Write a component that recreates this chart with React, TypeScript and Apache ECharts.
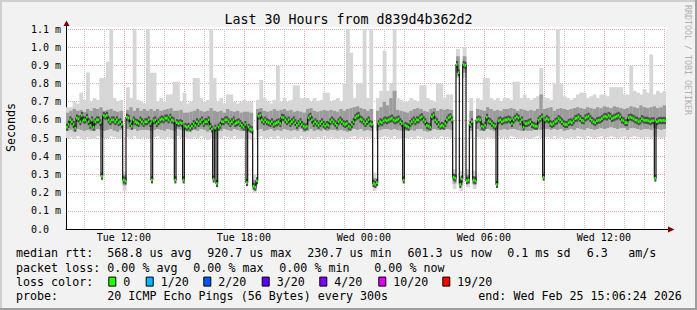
import React, { useEffect, useRef } from "react";
import * as echarts from "echarts";

// ---- time frame (hours since Tue 00:00) ----
const START_HOUR = 9 + 6.4 / 60; // Tue 09:06:24
const SPAN_HOURS = 30;
const END_HOUR = START_HOUR + SPAN_HOURS;
const MEDIAN_STEP_H = 5 / 60;
const SMOKE_STEP_H = 10 / 60;

const Y_MAX_US = 1100;
const Y_STEP_US = 100;

const xLabelHours = [12, 18, 24, 30, 36];
const xLabelTexts = ["Tue 12:00", "Tue 18:00", "Wed 00:00", "Wed 06:00", "Wed 12:00"];
const majorGridHours = [12, 15, 18, 21, 24, 27, 30, 33, 36, 39];
const minorGridHours = [10, 11, 13, 14, 16, 17, 19, 20, 22, 23, 25, 26, 28, 29, 31, 32, 34, 35, 37, 38];

// ---- median rtt, microseconds, one value per 5 minutes (12 per hour row) ----
const medianUs = [
  560, 575, 600, 590, 575, 555, 610, 605, 590, 625, 600, 600,
  615, 590, 570, 600, 560, 590, 600, 600, 585, 290, 625, 620,
  625, 600, 590, 600, 600, 590, 600, 585, 590, 575, 270, 265,
  615, 610, 580, 565, 600, 590, 585, 580, 600, 590, 580, 590,
  590, 600, 580, 270, 595, 600, 580, 590, 600, 605, 600, 610,
  610, 600, 615, 600, 595, 270, 585, 580, 585, 580, 270, 565,
  560, 565, 555, 565, 580, 570, 590, 580, 590, 600, 580, 590,
  590, 600, 565, 550, 275, 555, 250, 560, 570, 590, 590, 600,
  600, 590, 580, 590, 600, 580, 585, 590, 580, 570, 560, 575,
  255, 560, 550, 545, 235, 230, 265, 620, 625, 600, 590, 600,
  590, 585, 580, 590, 575, 580, 585, 590, 580, 615, 612, 600,
  590, 600, 580, 590, 600, 585, 570, 580, 590, 575, 565, 560,
  565, 612, 620, 600, 580, 590, 580, 570, 580, 590, 575, 565,
  575, 570, 590, 600, 590, 580, 570, 590, 600, 590, 580, 575,
  580, 565, 560, 575, 590, 612, 620, 625, 605, 600, 590, 580,
  590, 600, 580, 575, 250, 245, 255, 580, 590, 585, 595, 600,
  595, 600, 605, 610, 600, 595, 600, 605, 590, 580, 270, 570,
  565, 560, 580, 590, 600, 590, 600, 600, 612, 617, 600, 590,
  570, 565, 560, 617, 626, 600, 590, 575, 565, 570, 565, 580,
  600, 612, 617, 600, 285, 280, 905, 860, 245, 275, 905, 900,
  265, 270, 575, 590, 270, 265, 600, 605, 600, 565, 560, 570,
  615, 595, 590, 580, 570, 565, 245, 595, 600, 590, 595, 600,
  600, 605, 600, 580, 600, 610, 617, 610, 590, 600, 560, 580,
  580, 585, 590, 575, 570, 565, 565, 598, 607, 616, 285, 600,
  607, 600, 580, 575, 580, 590, 595, 607, 600, 590, 580, 575,
  575, 585, 590, 585, 595, 607, 610, 616, 607, 598, 595, 610,
  616, 620, 607, 598, 590, 585, 595, 598, 600, 607, 616, 620,
  616, 625, 620, 607, 612, 616, 620, 625, 616, 600, 595, 585,
  585, 612, 616, 612, 607, 600, 598, 590, 595, 607, 600, 598,
  598, 595, 590, 595, 595, 280, 590, 595, 598, 595, 598, 595,
];

// ---- smoke (ping spread), microseconds, one value per 10 minutes (6 per hour row) ----
const smokeLoUs = [
  500, 505, 495, 510, 500, 490,
  505, 495, 500, 510, 505, 500,
  500, 510, 505, 495, 500, 210,
  505, 500, 510, 495, 500, 505,
  500, 495, 505, 510, 500, 495,
  505, 500, 495, 510, 500, 505,
  495, 500, 505, 500, 510, 500,
  490, 500, 495, 505, 500, 510,
  505, 500, 510, 500, 495, 500,
  495, 490, 200, 505, 510, 500,
  500, 505, 495, 510, 500, 505,
  500, 495, 505, 500, 510, 495,
  505, 500, 495, 505, 500, 510,
  500, 505, 500, 495, 505, 500,
  495, 505, 510, 500, 505, 500,
  505, 500, 210, 500, 505, 510,
  505, 500, 510, 500, 495, 500,
  500, 505, 495, 510, 505, 500,
  495, 500, 505, 500, 510, 505,
  505, 500, 220, 830, 210, 830,
  230, 500, 220, 505, 500, 495,
  505, 500, 495, 510, 500, 505,
  500, 510, 505, 500, 495, 505,
  500, 495, 505, 510, 500, 505,
  505, 500, 510, 500, 505, 495,
  500, 505, 500, 510, 505, 500,
  510, 505, 500, 505, 510, 500,
  505, 510, 505, 500, 505, 510,
  500, 505, 510, 505, 500, 505,
  505, 500, 510, 505, 500, 505,
];
const smokeMidLoUs = [
  540, 545, 535, 550, 545, 540,
  545, 540, 540, 550, 545, 540,
  545, 550, 540, 535, 545, 240,
  550, 545, 550, 540, 545, 545,
  545, 540, 545, 550, 545, 540,
  550, 545, 540, 550, 545, 540,
  535, 540, 545, 540, 550, 545,
  535, 545, 540, 545, 540, 550,
  545, 540, 550, 545, 540, 540,
  535, 530, 220, 545, 550, 540,
  545, 550, 540, 545, 540, 550,
  545, 540, 545, 540, 550, 535,
  540, 550, 540, 545, 540, 550,
  540, 545, 545, 540, 545, 540,
  535, 545, 550, 545, 550, 540,
  545, 540, 230, 540, 545, 550,
  550, 545, 550, 545, 540, 540,
  540, 545, 540, 550, 550, 540,
  535, 545, 550, 545, 550, 545,
  550, 545, 250, 860, 240, 860,
  250, 540, 245, 550, 540, 540,
  550, 545, 540, 550, 545, 550,
  545, 550, 550, 545, 540, 545,
  540, 540, 545, 550, 545, 550,
  550, 545, 550, 545, 550, 540,
  545, 550, 545, 555, 550, 545,
  555, 550, 545, 550, 555, 550,
  555, 560, 555, 550, 555, 555,
  545, 555, 555, 550, 545, 550,
  550, 545, 555, 550, 545, 550,
];
const smokeMidHiUs = [
  640, 650, 660, 650, 655, 645,
  660, 650, 665, 660, 670, 650,
  655, 660, 650, 645, 650, 300,
  655, 670, 650, 665, 650, 660,
  650, 660, 650, 660, 650, 655,
  660, 665, 650, 650, 655, 640,
  640, 645, 650, 660, 650, 645,
  650, 665, 650, 645, 650, 640,
  660, 650, 645, 650, 640, 645,
  645, 640, 270, 660, 665, 650,
  645, 650, 660, 650, 655, 660,
  650, 655, 645, 650, 645, 640,
  660, 665, 650, 645, 650, 655,
  650, 655, 650, 645, 660, 650,
  660, 665, 670, 675, 665, 660,
  650, 660, 280, 650, 670, 700,
  680, 720, 760, 655, 650, 645,
  640, 650, 660, 665, 660, 650,
  645, 660, 665, 650, 660, 655,
  660, 655, 300, 950, 290, 950,
  300, 650, 290, 660, 655, 650,
  670, 660, 650, 655, 650, 660,
  660, 665, 660, 650, 660, 655,
  650, 655, 650, 660, 740, 660,
  665, 670, 650, 660, 665, 660,
  655, 660, 665, 670, 665, 660,
  670, 665, 660, 670, 665, 675,
  670, 665, 675, 670, 665, 660,
  665, 675, 670, 665, 680, 670,
  665, 670, 675, 665, 670, 680,
];
const smokeHiUs = [
  670, 670, 700, 690, 750, 710,
  860, 700, 720, 710, 830, 830,
  920, 1100, 720, 700, 710, 320,
  780, 720, 1100, 710, 700, 690,
  1100, 860, 860, 700, 720, 700,
  740, 740, 810, 810, 700, 750,
  690, 700, 830, 830, 720, 700,
  710, 1100, 830, 700, 720, 690,
  740, 740, 700, 690, 700, 710,
  700, 700, 300, 710, 820, 720,
  700, 690, 710, 900, 700, 720,
  700, 710, 790, 790, 720, 720,
  720, 700, 720, 700, 710, 750,
  750, 700, 710, 720, 700, 800,
  1100, 970, 720, 800, 800, 1100,
  720, 1100, 310, 720, 760, 980,
  760, 800, 1100, 720, 710, 700,
  700, 720, 710, 700, 790, 790,
  720, 710, 700, 800, 800, 720,
  740, 740, 330, 990, 320, 1000,
  330, 720, 320, 720, 710, 830,
  830, 720, 710, 720, 700, 720,
  720, 710, 810, 810, 720, 740,
  720, 710, 720, 730, 885, 720,
  720, 710, 800, 1100, 800, 730,
  720, 710, 720, 740, 750, 750,
  720, 730, 740, 720, 740, 740,
  730, 780, 780, 780, 780, 740,
  740, 900, 760, 750, 740, 770,
  750, 960, 740, 760, 750, 760,
];

// ---- legend texts ----
const titleText = "Last 30 Hours from d839d4b362d2";
const yAxisTitle = "Seconds";
const watermark = "RRDTOOL / TOBI OETIKER";
const rttLabel = "median rtt:";
const rttStats = ["568.8 us avg", "920.7 us max", "230.7 us min", "601.3 us now", "0.1 ms sd", "6.3", "am/s"];
const lossLabel = "packet loss:";
const lossStats = ["0.00 % avg", "0.00 % max", "0.00 % min", "0.00 % now"];
const lossColorLabel = "loss color:";
const lossColorNames = ["0", "1/20", "2/20", "3/20", "4/20", "10/20", "19/20"];
const lossColorValues = ["#26ff00", "#00b8ff", "#0059ff", "#5e00ff", "#7e00ff", "#dd00ff", "#ff0000"];
const probeLabel = "probe:";
const probeText = "20 ICMP Echo Pings (56 Bytes) every 300s";
const endText = "end: Wed Feb 25 15:06:24 2026";

// ---- layout (pixels) ----
const W = 697;
const H = 310;
const MONO = "'DejaVu Sans Mono', monospace";
const rttX = [107.3, 207.3, 307.3, 407.5, 507.3, 586.7, 628.3];
const lossX = [107.3, 193.3, 279.3, 374.3];
const boxX = [108.3, 145.7, 203.3, 261.7, 319.3, 378.3, 442.3];
const rowY = [253.3, 267.5, 281.6, 295.8];

const LIGHT_SMOKE = "#d6d6d6";
const MID_SMOKE = "#9c9c9c";
const CORE_SMOKE = "#4c4c4c";
const MAJOR_GRID = "#eaa9a9";
const MINOR_GRID = "#c6c6c6";

function txt(text: string, x: number, y: number, size: number, extra: any = {}) {
  return {
    type: "text",
    x,
    y,
    silent: true,
    ...extra,
    style: {
      text,
      x: 0,
      y: 0,
      fill: extra.fill || "#000",
      font: `${size}px ${MONO}`,
      align: extra.align || "left",
      textAlign: extra.align || "left",
      verticalAlign: "middle",
      textVerticalAlign: "middle",
    },
  };
}

function buildOption() {
  const medianPts: number[][] = medianUs.map((v, i) => [START_HOUR + i * MEDIAN_STEP_H, v]);
  medianPts.push([END_HOUR, medianUs[medianUs.length - 1]]);

  const medianCells = medianUs.map((v, i) => [
    START_HOUR + i * MEDIAN_STEP_H,
    START_HOUR + (i + 1) * MEDIAN_STEP_H,
    v,
  ]);
  const smokeCells = smokeLoUs.map((lo, j) => [
    START_HOUR + j * SMOKE_STEP_H,
    START_HOUR + (j + 1) * SMOKE_STEP_H,
    lo,
    smokeMidLoUs[j],
    smokeMidHiUs[j],
    smokeHiUs[j],
  ]);

  const gridLines = (hours: number[], color: string) => ({
    type: "custom",
    silent: true,
    z: 1,
    data: hours.map((h) => [h, 0]),
    encode: { x: 0, y: 1 },
    renderItem: (_p: any, api: any) => {
      const top = api.coord([api.value(0), Y_MAX_US]);
      const bottom = api.coord([api.value(0), 0]);
      const x = Math.round(top[0]) + 0.5;
      return {
        type: "line",
        shape: { x1: x, y1: top[1], x2: x, y2: bottom[1] },
        style: { stroke: color, lineWidth: 1, lineDash: [1, 1] },
      };
    },
  });

  // horizontal marks drawn once per 5-minute median step
  const medianBar = (color: string, thickness: number, extraW: number, z: number) => ({
    type: "custom",
    silent: true,
    clip: true,
    z,
    data: medianCells,
    encode: { x: [0, 1], y: 2 },
    renderItem: (_p: any, api: any) => {
      const a = api.coord([api.value(0), api.value(2)]);
      const b = api.coord([api.value(1), api.value(2)]);
      return {
        type: "rect",
        shape: { x: a[0], y: a[1] - thickness / 2, width: b[0] - a[0] + extraW, height: thickness },
        style: { fill: color },
      };
    },
  });

  const graphics: any[] = [
    // frame shading
    { type: "rect", silent: true, shape: { x: 0, y: 0, width: W, height: 2 }, style: { fill: "#cfcfcf" } },
    { type: "rect", silent: true, shape: { x: 0, y: 0, width: 2, height: H }, style: { fill: "#cfcfcf" } },
    { type: "rect", silent: true, shape: { x: 0, y: H - 2, width: W, height: 2 }, style: { fill: "#9e9e9e" } },
    { type: "rect", silent: true, shape: { x: W - 2, y: 0, width: 2, height: H }, style: { fill: "#9e9e9e" } },
    // canvas strip above the top grid line
    { type: "rect", silent: true, z: -1, shape: { x: 66, y: 27, width: 601, height: 3 }, style: { fill: "#ffffff" } },
    // axis arrows
    { type: "line", silent: true, shape: { x1: 66.5, y1: 29, x2: 66.5, y2: 25 }, style: { stroke: "#000", lineWidth: 1 } },
    { type: "polygon", silent: true, shape: { points: [[63.5, 26], [66.5, 20.5], [69.5, 26]] }, style: { fill: "#7f0000" } },
    { type: "line", silent: true, shape: { x1: 666, y1: 229.5, x2: 669, y2: 229.5 }, style: { stroke: "#000", lineWidth: 1 } },
    { type: "polygon", silent: true, shape: { points: [[668, 226.5], [674.5, 229.5], [668, 232.5]] }, style: { fill: "#7f0000" } },
    // titles
    txt(titleText, 348.5, 19.5, 13.3, { align: "center" }),
    txt(yAxisTitle, 10.5, 127.5, 11.66, { align: "center", rotation: Math.PI / 2 }),
    txt(watermark, 687.5, 60, 8.3, { align: "center", rotation: -Math.PI / 2, fill: "#b0b0b0" }),
    // legend
    txt(rttLabel, 16, rowY[0], 11.66),
    ...rttStats.map((s, i) => txt(s, rttX[i], rowY[0], 11.66)),
    txt(lossLabel, 16, rowY[1], 11.66),
    ...lossStats.map((s, i) => txt(s, lossX[i], rowY[1], 11.66)),
    txt(lossColorLabel, 16, rowY[2], 11.66),
    ...lossColorNames.map((s, i) => txt(s, boxX[i] + 15, rowY[2], 11.66)),
    ...lossColorValues.map((c, i) => ({
      type: "rect",
      silent: true,
      shape: { x: boxX[i] + 0.5, y: rowY[2] - 4.5, width: 7, height: 9 },
      style: { fill: c, stroke: "#000", lineWidth: 1 },
    })),
    txt(probeLabel, 16, rowY[3], 11.66),
    txt(probeText, 107.3, rowY[3], 11.66),
    txt(endText, 478.3, rowY[3], 11.66),
  ];

  return {
    animation: false,
    backgroundColor: "#f2f2f2",
    grid: { left: 66, right: 31, top: 29, bottom: 81, show: true, backgroundColor: "#ffffff", borderWidth: 0 },
    xAxis: {
      type: "value",
      min: START_HOUR,
      max: END_HOUR,
      axisLine: { show: true, onZero: false, lineStyle: { color: "#000", width: 1 } },
      axisTick: { show: false },
      splitLine: { show: false },
      axisLabel: {
        customValues: xLabelHours,
        formatter: (v: number) => {
          const k = xLabelHours.findIndex((h) => Math.abs(h - v) < 1e-6);
          return k >= 0 ? xLabelTexts[k] : "";
        },
        color: "#000",
        fontFamily: MONO,
        fontSize: 10,
        margin: 3,
      },
    },
    yAxis: {
      type: "value",
      min: 0,
      max: Y_MAX_US,
      interval: Y_STEP_US,
      axisLine: { show: true, lineStyle: { color: "#000", width: 1 } },
      axisTick: { show: false },
      splitLine: { show: true, lineStyle: { color: MAJOR_GRID, width: 1, type: [1, 1] } },
      axisLabel: {
        formatter: (v: number) => (v === 0 ? "0.0" : (v / 1000).toFixed(1) + " m"),
        align: "left",
        margin: 35,
        color: "#000",
        fontFamily: MONO,
        fontSize: 10,
      },
    },
    series: [
      gridLines(minorGridHours, MINOR_GRID),
      gridLines(majorGridHours, MAJOR_GRID),
      {
        type: "custom",
        silent: true,
        clip: true,
        z: 2,
        data: smokeCells,
        encode: { x: [0, 1], y: [2, 5] },
        renderItem: (_p: any, api: any) => {
          const a = api.coord([api.value(0), api.value(5)]);
          const b = api.coord([api.value(1), api.value(2)]);
          const c = api.coord([api.value(0), api.value(4)]);
          const d = api.coord([api.value(1), api.value(3)]);
          const w = b[0] - a[0] + 0.5;
          return {
            type: "group",
            children: [
              { type: "rect", shape: { x: a[0], y: a[1], width: w, height: b[1] - a[1] }, style: { fill: LIGHT_SMOKE } },
              { type: "rect", shape: { x: a[0], y: c[1], width: w, height: d[1] - c[1] }, style: { fill: MID_SMOKE } },
            ],
          };
        },
      },
      medianBar(CORE_SMOKE, 7, 0.4, 3),
      {
        type: "line",
        silent: true,
        step: "end",
        showSymbol: false,
        z: 4,
        data: medianPts,
        lineStyle: { color: "#111111", width: 1.2 },
      },
      medianBar(lossColorValues[0], 2.6, 0.1, 5),
    ],
    graphic: { elements: graphics },
  };
}

export default function App() {
  const ref = useRef<HTMLDivElement>(null);
  useEffect(() => {
    if (!ref.current) return;
    const chart = echarts.init(ref.current, null, { renderer: "svg" });
    chart.setOption(buildOption() as any);
    return () => chart.dispose();
  }, []);
  return (
    <div
      ref={ref}
      style={{ position: "fixed", left: 0, top: 0, width: W, height: H, background: "#f2f2f2" }}
    />
  );
}
